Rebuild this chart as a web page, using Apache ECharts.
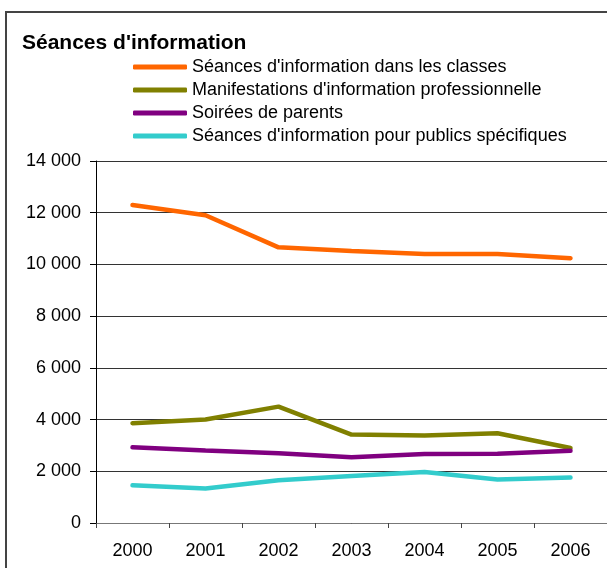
<!DOCTYPE html>
<html>
<head>
<meta charset="utf-8">
<script src="https://cdn.jsdelivr.net/npm/echarts@6/dist/echarts.min.js"></script>
<style>
  html, body { margin: 0; padding: 0; background: #fff; }
  #chart { width: 607px; height: 568px; }
</style>
</head>
<body>
<div id="chart"></div>
<script>
// années
var years = ['2000', '2001', '2002', '2003', '2004', '2005', '2006'];
// séances dans les classes
var classes = [12300, 11900, 10660, 10520, 10400, 10400, 10240];
// manifestations d'information professionnelle
var manifestations = [3860, 4000, 4500, 3420, 3380, 3470, 2900];
// soirées de parents
var soirees = [2930, 2800, 2700, 2540, 2670, 2680, 2790];
// publics spécifiques
var publics = [1460, 1330, 1650, 1820, 1970, 1680, 1760];

var seriesNames = [
  "Séances d'information dans les classes",
  "Manifestations d'information professionnelle",
  'Soirées de parents',
  "Séances d'information pour publics spécifiques"
];
var colors = ['#ff6600', '#808000', '#800080', '#33cccc'];
var seriesData = [classes, manifestations, soirees, publics];

var myChart = echarts.init(document.getElementById('chart'));
myChart.setOption({
  animation: false,
  color: colors,
  textStyle: { fontFamily: 'Liberation Sans, Arial, sans-serif' },
  // cadre du graphique
  graphic: [{
    type: 'rect',
    shape: { x: 6, y: 12, width: 700, height: 700 },
    style: { fill: 'none', stroke: '#444', lineWidth: 2 },
    silent: true
  }],
  title: {
    text: "Séances d'information",
    left: 17,
    top: 28,
    textStyle: { fontSize: 21, fontWeight: 'bold', color: '#000' }
  },
  legend: {
    orient: 'vertical',
    left: 133,
    top: 58,
    padding: 0,
    itemWidth: 54,
    itemHeight: 5,
    itemGap: 5,
    icon: 'roundRect',
    data: seriesNames,
    textStyle: { fontSize: 18, color: '#000' }
  },
  grid: {
    left: 96,
    right: -1,
    top: 161,
    bottom: 45,
    containLabel: false
  },
  xAxis: {
    type: 'category',
    data: years,
    boundaryGap: true,
    axisLine: { lineStyle: { color: '#777', width: 1 } },
    axisTick: { show: true, length: 5, lineStyle: { color: '#444' } },
    axisLabel: { fontSize: 18, color: '#000', margin: 19 }
  },
  yAxis: {
    type: 'value',
    min: 0,
    max: 14000,
    interval: 2000,
    axisLine: { show: true, lineStyle: { color: '#000' } },
    axisTick: { show: true, length: 6, lineStyle: { color: '#000' } },
    axisLabel: {
      fontSize: 18,
      color: '#000',
      margin: 15,
      formatter: function (v) {
        return String(v).replace(/\B(?=(\d{3})+(?!\d))/g, ' ');
      }
    },
    splitLine: { lineStyle: { color: '#333', width: 1 } }
  },
  series: seriesData.map(function (d, i) {
    return {
      name: seriesNames[i],
      type: 'line',
      data: d,
      showSymbol: false,
      symbol: 'none',
      lineStyle: { width: 4.5, color: colors[i], cap: 'round' }
    };
  })
});
</script>
</body>
</html>
